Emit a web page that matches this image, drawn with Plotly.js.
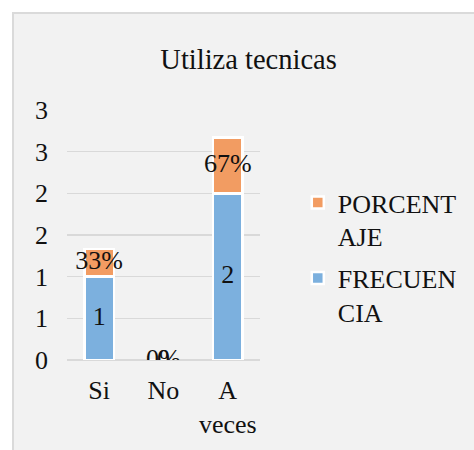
<!DOCTYPE html>
<html>
<head>
<meta charset="utf-8">
<script src="https://cdn.plot.ly/plotly-3.0.1.min.js"></script>
<style>
  html, body { margin: 0; padding: 0; background: #ffffff; }
  #plot {
    position: absolute; left: 12px; top: 12px;
    width: 462px; height: 438px;
    border-left: 2px solid #dadada; border-top: 2px solid #dadada;
    box-sizing: border-box;
  }
</style>
</head>
<body>
<div id="plot"></div>
<script>
// data
var categorias = ['Si', 'No', 'A<br>veces'];
var frecuencia = [1, 0, 2];
var porcentaje = [0.33, 0, 0.67];
var etiquetasPct = ['33%', '0%', '67%'];
var tickVals = [0, 0.5, 1, 1.5, 2, 2.5, 3];
var tickText = ['0', '1', '1', '2', '2', '3', '3'];

var fuente = 'Liberation Serif';

var trace1 = {
    x: categorias,
    y: frecuencia,
    type: 'bar',
    name: 'FRECUEN<br>CIA',
    legendgroup: 'frec',
    legendrank: 2,
    width: 0.46,
    marker: { color: '#7cb0de', line: { color: '#ffffff', width: 2.5 } },
    hoverinfo: 'none'
};

var trace2 = {
    x: categorias,
    y: porcentaje,
    type: 'bar',
    name: 'PORCENT<br>AJE',
    legendgroup: 'pct',
    legendrank: 1,
    width: 0.46,
    marker: { color: '#f29c62', line: { color: '#ffffff', width: 2.5 } },
    hoverinfo: 'none'
};

// value labels placed at segment middles
var midFrec = frecuencia.map(function (v) { return v / 2; });
var midPct = porcentaje.map(function (v, i) { return frecuencia[i] + v / 2; });

var labels1 = {
    x: categorias,
    y: midFrec,
    mode: 'text',
    type: 'scatter',
    text: frecuencia.map(String),
    textfont: { family: fuente, size: 26, color: '#111' },
    showlegend: false,
    hoverinfo: 'none'
};

var labels2 = {
    x: categorias,
    y: midPct,
    mode: 'text',
    type: 'scatter',
    text: etiquetasPct,
    textfont: { family: fuente, size: 26, color: '#111' },
    showlegend: false,
    hoverinfo: 'none'
};

var data = [trace1, trace2, labels1, labels2];

var layout = {
    barmode: 'stack',
    width: 460,
    height: 436,
    margin: { l: 53, r: 0, t: 96, b: 90 },
    paper_bgcolor: '#f2f2f2',
    plot_bgcolor: 'rgba(0,0,0,0)',
    font: { family: fuente, size: 26, color: '#111' },
    title: {
        text: 'Utiliza tecnicas',
        font: { family: fuente, size: 28.5, color: '#111' },
        xref: 'container', x: 0.51, xanchor: 'center',
        yref: 'container', y: 0.897, yanchor: 'middle'
    },
    xaxis: {
        domain: [0, 0.474],
        showgrid: false,
        showline: false,
        zeroline: false,
        ticks: '',
        ticklabelstandoff: 12,
        tickfont: { family: fuente, size: 26, color: '#111' }
    },
    yaxis: {
        range: [0, 3],
        tickvals: tickVals,
        ticktext: tickText,
        showgrid: true,
        gridcolor: '#d9d9d9',
        gridwidth: 1.5,
        zeroline: true,
        zerolinecolor: '#d9d9d9',
        zerolinewidth: 1.5,
        showline: false,
        ticks: '',
        ticklabelstandoff: 18,
        tickfont: { family: fuente, size: 26, color: '#111' }
    },
    legend: {
        x: 0.97, y: 0.724,
        xanchor: 'right', yanchor: 'top',
        valign: 'top',
        bgcolor: 'rgba(0,0,0,0)',
        font: { family: fuente, size: 26, color: '#111' },
        traceorder: 'grouped',
        tracegroupgap: 5,
        itemwidth: 30
    },
    showlegend: true
};

Plotly.newPlot('plot', data, layout, { displayModeBar: false, staticPlot: true });
</script>
</body>
</html>
